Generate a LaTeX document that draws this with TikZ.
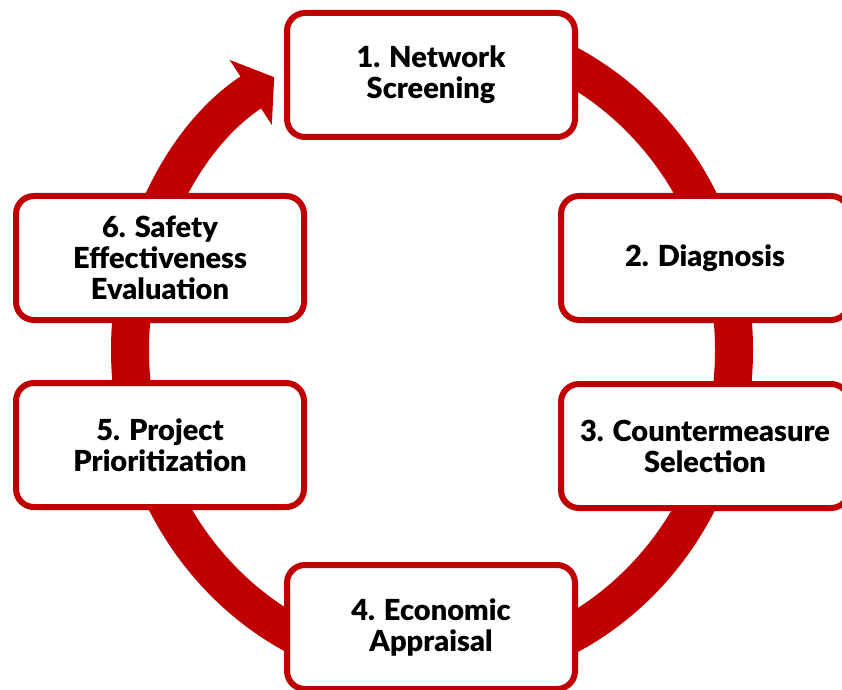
\documentclass[tikz,border=0pt]{standalone}
\usepackage{fontspec}
\setmainfont{Lato}[BoldFont={Lato Black}]
\usetikzlibrary{arrows.meta}
\definecolor{ringred}{HTML}{C00000}
\tikzstyle{stage}=[draw=ringred,line width=6pt,fill=white,rounded corners=18pt,
  minimum width=288pt,minimum height=124pt,align=center,
  font=\fontsize{29}{31}\selectfont\bfseries]
\tikzstyle{ring}=[draw=ringred,line width=38pt,-{Triangle[length=28pt,width=76pt]}]

\begin{document}
\begin{tikzpicture}[x=1pt,y=1pt]
  \useasboundingbox (0,0) rectangle (842,689);

  % the cycle, drawn clockwise behind the boxes
  \coordinate (hub) at (432,339);
  \draw[ring] ([yshift=320pt]hub) arc[start angle=90,end angle=-238.5,x radius=302,y radius=320];

  % the six stages
  \foreach \pos/\name/\txt in {
    {(431,614)/1/1. Network\\Screening},
    {(705,431)/2/2. Diagnosis},
    {(705,243)/3/3. Countermeasure\\Selection},
    {(431,62)/4/4. Economic\\Appraisal},
    {(160,244)/5/5. Project\\Prioritization},
    {(160,431)/6/6. Safety\\Effectiveness\\Evaluation}}
    \node[stage] (s\name) at \pos {\txt};
\end{tikzpicture}
\end{document}
